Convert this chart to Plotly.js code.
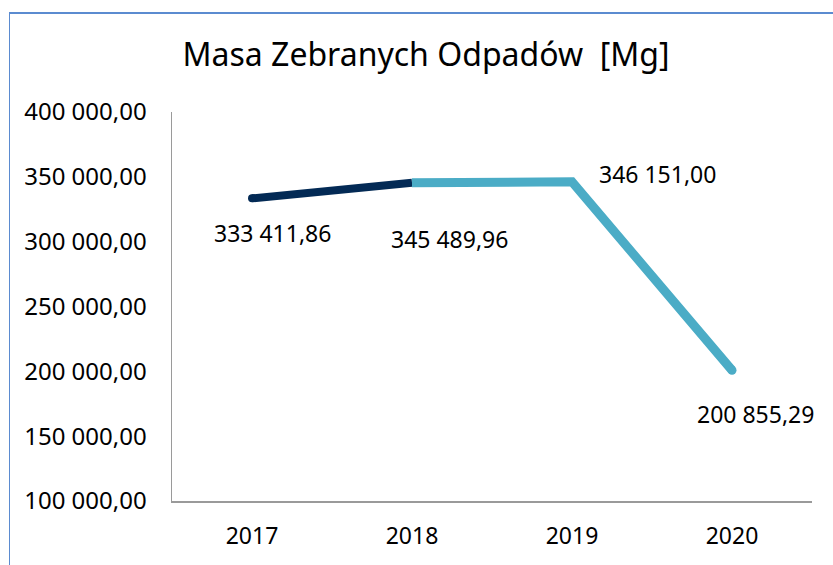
<!DOCTYPE html>
<html>
<head>
<meta charset="utf-8">
<script src="https://cdn.plot.ly/plotly-3.0.1.min.js"></script>
<style>
html,body{margin:0;padding:0;background:#fff;}
#wrap{position:relative;width:833px;height:565px;overflow:hidden;}
#frame{position:absolute;left:9px;top:12px;width:900px;height:700px;border-left:1px solid #5B8BD0;border-top:2px solid #5B8BD0;pointer-events:none;z-index:5;}
#chart{position:absolute;left:0;top:0;width:833px;height:565px;}
</style>
</head>
<body>
<div id="wrap"><div id="chart"></div><div id="frame"></div></div>
<script>
const years = ['2017', '2018', '2019', '2020'];
const values = [333411.86, 345489.96, 346151.00, 200855.29];
const labels = ['333 411,86', '345 489,96', '346 151,00', '200 855,29'];
const tickVals = [100000, 150000, 200000, 250000, 300000, 350000, 400000];
const tickText = ['100 000,00', '150 000,00', '200 000,00', '250 000,00', '300 000,00', '350 000,00', '400 000,00'];

const dark = '#032A55';
const light = '#4BACC6';
const font = '"Noto Sans", sans-serif';

const traces = [
  {
    x: years.slice(0, 2), y: values.slice(0, 2), type: 'scatter', mode: 'lines',
    line: {color: dark, width: 8},
    hoverinfo: 'skip', showlegend: false
  },
  {
    x: years.slice(0, 1), y: values.slice(0, 1), type: 'scatter', mode: 'markers',
    marker: {color: dark, size: 8},
    hoverinfo: 'skip', showlegend: false
  },
  {
    x: years.slice(1), y: values.slice(1), type: 'scatter', mode: 'lines',
    line: {color: light, width: 9},
    hoverinfo: 'skip', showlegend: false
  },
  {
    x: years.slice(3), y: values.slice(3), type: 'scatter', mode: 'markers',
    marker: {color: light, size: 9},
    hoverinfo: 'skip', showlegend: false
  }
];

const shifts = [[20.5, -35], [37.5, -56], [85.5, 8], [23, -44]];
const annotations = years.map((yr, i) => ({
  x: i, y: values[i], xref: 'x', yref: 'y', text: labels[i], showarrow: false,
  xanchor: 'center', yanchor: 'middle', xshift: shifts[i][0], yshift: shifts[i][1],
  font: {family: font, size: 23, color: '#000'}
}));

const layout = {
  width: 833, height: 565,
  margin: {l: 172, r: 21, t: 112, b: 64},
  paper_bgcolor: '#fff', plot_bgcolor: '#fff',
  title: {
    text: 'Masa Zebranych Odpadów \u00a0[Mg]',
    font: {family: font, size: 32, color: '#000'},
    x: 426 / 833, xanchor: 'center', xref: 'container',
    y: 1 - 55 / 565, yanchor: 'middle', yref: 'container'
  },
  xaxis: {
    type: 'category', categoryorder: 'array', categoryarray: years, range: [-0.5, 3.5],
    showline: true, linecolor: '#9a9a9a', linewidth: 1.5,
    showgrid: false, zeroline: false,
    ticks: 'outside', ticklen: 14, tickcolor: 'rgba(0,0,0,0)',
    tickfont: {family: font, size: 23, color: '#000'}
  },
  yaxis: {
    range: [100000, 400000],
    tickvals: tickVals, ticktext: tickText,
    showline: true, linecolor: '#9a9a9a', linewidth: 1.5,
    showgrid: false, zeroline: false,
    ticks: 'outside', ticklen: 19, tickcolor: 'rgba(0,0,0,0)',
    tickfont: {family: font, size: 24, color: '#000'}
  },
  annotations: annotations,
  showlegend: false
};

Plotly.newPlot('chart', traces, layout, {displayModeBar: false, staticPlot: true});
</script>
</body>
</html>
